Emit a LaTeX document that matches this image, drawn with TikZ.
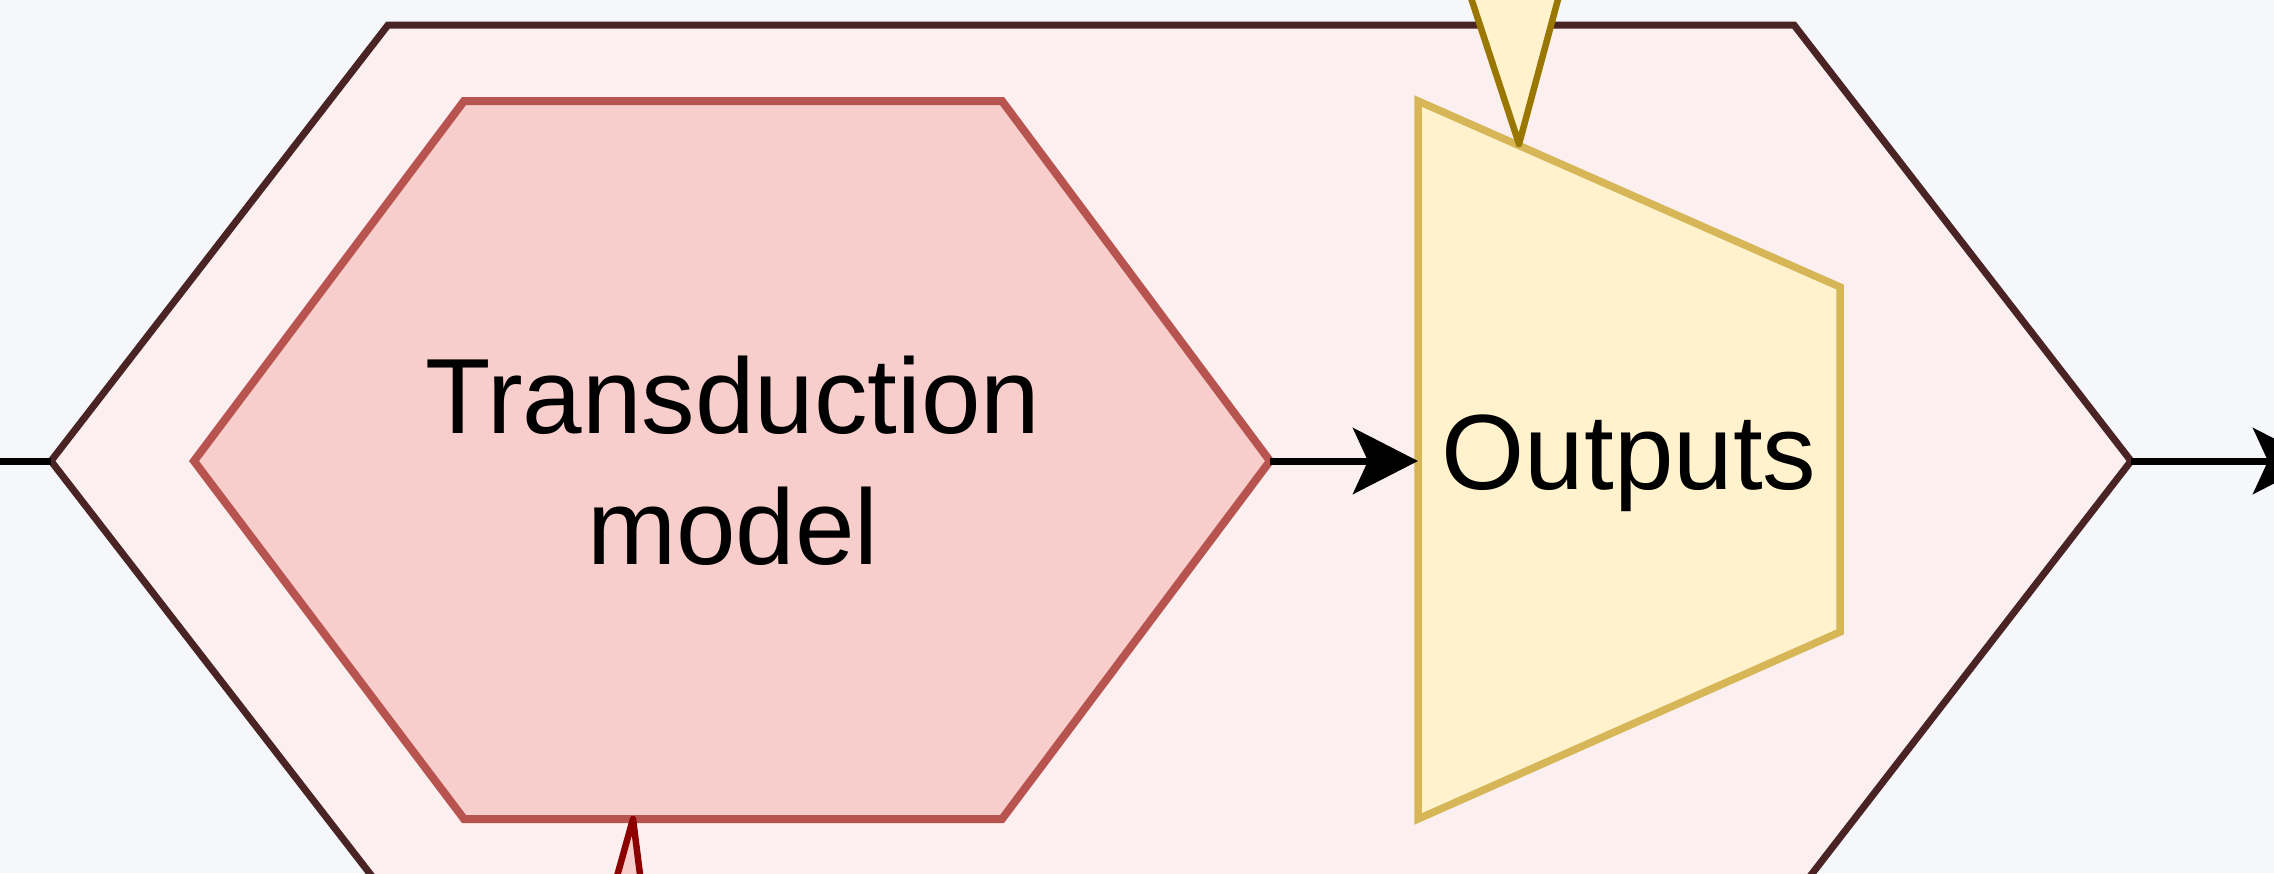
\documentclass[tikz,border=0pt]{standalone}
\usepackage{fontspec}
\setmainfont{Liberation Sans}
\usetikzlibrary{arrows.meta}
\definecolor{bg}{HTML}{F5F7FB}
\definecolor{outerfill}{HTML}{FCEFEF}
\definecolor{outerline}{HTML}{4A2424}
\definecolor{redfill}{HTML}{F8CECC}
\definecolor{redline}{HTML}{B85450}
\definecolor{yelfill}{HTML}{FFF2CC}
\definecolor{yelline}{HTML}{D6B656}
\definecolor{goldline}{HTML}{997700}
\definecolor{darkred}{HTML}{8C0000}
\begin{document}
\begin{tikzpicture}[x=1pt,y=-1pt,
  outerhex/.style={fill=outerfill,draw=outerline,line width=7pt},
  innerhex/.style={fill=redfill,draw=redline,line width=8pt},
  trap/.style={fill=yelfill,draw=yelline,line width=7.5pt},
  toptri/.style={fill=yelfill,draw=goldline,line width=6.5pt,line join=round},
  bottri/.style={fill=redfill,draw=darkred,line width=6.5pt,line join=round},
  conn/.style={draw=black,line width=7pt,-{Stealth[length=65pt,width=66pt,inset=15pt]}},
  plain/.style={draw=black,line width=7pt},
  lbl/.style={align=center,font=\fontsize{107}{131}\selectfont,inner sep=0pt}]
\useasboundingbox (0,0) rectangle (2274,873);
\clip (0,0) rectangle (2274,873);
\fill[bg] (0,0) rectangle (2274,873);
% outer hexagon
\coordinate (oL) at (51,461);
\coordinate (oR) at (2131,461);
\draw[outerhex] (oL) -- (388,25) -- (1794,25) -- (oR) -- (1794,897) -- (388,897) -- cycle;
% inner hexagon
\coordinate (iL) at (194,461);
\coordinate (iR) at (1270,461);
\draw[innerhex] (iL) -- (464,101) -- (1002,101) -- (iR) -- (1002,819) -- (464,819) -- cycle;
\coordinate (iB) at (633,819);
% trapezoid
\coordinate (tL) at (1418,461);
\draw[trap] (1418,101) -- (1840,287) -- (1840,632) -- (1418,819) -- cycle;
\coordinate (tT) at (1519,144);
% triangles
\draw[toptri] (tT) -- (1452,-60) -- (1574,-60) -- cycle;
\draw[bottri] (iB) -- (602,930) -- (647,930) -- cycle;
% labels
\node[lbl] (model) at (733,461) {Transduction\\model};
\node[lbl] (outputs) at (1629,463) {Outputs};
% connectors
\coordinate (inp) at (-20,461);
\coordinate (outp) at (2318,461);
\draw[plain] (inp) -- (oL);
\draw[conn] (iR) -- (tL);
\draw[conn] (oR) -- (outp);
\end{tikzpicture}
\end{document}
